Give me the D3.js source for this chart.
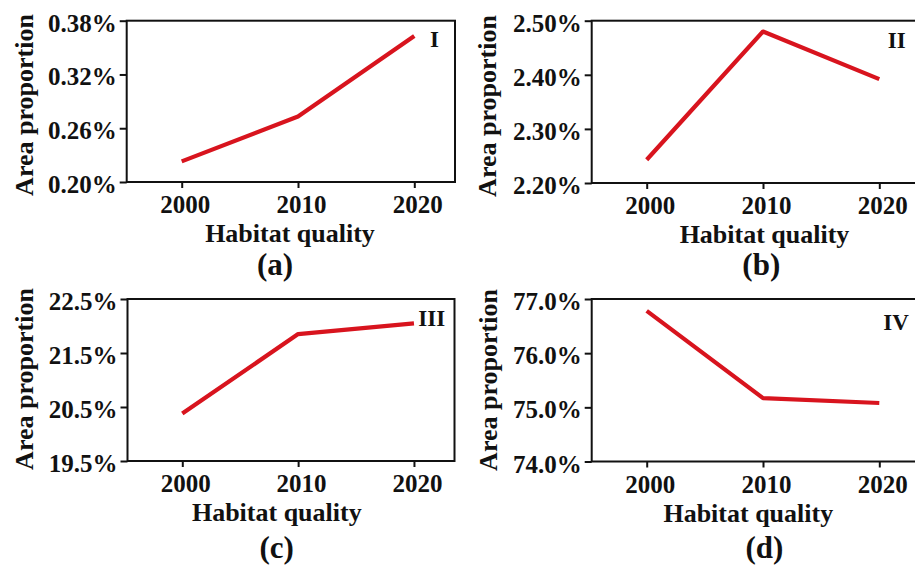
<!DOCTYPE html>
<html>
<head>
<meta charset="utf-8">
<script src="https://cdn.jsdelivr.net/npm/d3@7"></script>
<style>
  html, body { margin: 0; padding: 0; background: #fff; }
  svg { display: block; }
  text { font-family: "Liberation Serif", "Times New Roman", serif; font-weight: bold; fill: #111; }
</style>
</head>
<body>
<svg id="chart" width="915" height="565"></svg>
<script>
// Years on the x axis
const years = [2000, 2010, 2020];
const xTickValues = [2000, 2010, 2020];

// Area proportion (%) of each habitat-quality class
const seriesI = [0.223, 0.273, 0.363];
const seriesII = [2.243, 2.480, 2.392];
const seriesIII = [20.38, 21.85, 22.05];
const seriesIV = [76.78, 75.17, 75.08];

// Y tick values per panel
const yTicksI = [0.20, 0.26, 0.32, 0.38];
const yTicksII = [2.20, 2.30, 2.40, 2.50];
const yTicksIII = [19.5, 20.5, 21.5, 22.5];
const yTicksIV = [74.0, 75.0, 76.0, 77.0];

const classLabels = ["I", "II", "III", "IV"];
const panelTags = ["(a)", "(b)", "(c)", "(d)"];
const xTitle = "Habitat quality";
const yTitle = "Area proportion";

// Panel layout (plot boxes and label anchors)
const panels = [
  { values: seriesI, ticks: yTicksI, fmt: ".2f",
    box: { left: 126.7, top: 20.7, width: 328.3, height: 161.3 },
    cls: { x: 430, y: 47 }, xt: { x: 290, y: 242 }, tag: { x: 275, y: 274.5 }, yt: { x: 32.5, y: 105 } },
  { values: seriesII, ticks: yTicksII, fmt: ".2f",
    box: { left: 591.7, top: 20.7, width: 328.3, height: 162.3 },
    cls: { x: 887.7, y: 47.7 }, xt: { x: 764.5, y: 243 }, tag: { x: 761.3, y: 274.5 }, yt: { x: 496, y: 106 } },
  { values: seriesIII, ticks: yTicksIII, fmt: ".1f",
    box: { left: 127.5, top: 299, width: 327, height: 162 },
    cls: { x: 418.3, y: 325.7 }, xt: { x: 276.8, y: 521 }, tag: { x: 276.7, y: 557.5 }, yt: { x: 32.5, y: 379 } },
  { values: seriesIV, ticks: yTicksIV, fmt: ".1f",
    box: { left: 591.7, top: 299, width: 328.3, height: 162.5 },
    cls: { x: 883.3, y: 329.5 }, xt: { x: 748.3, y: 521.5 }, tag: { x: 764.4, y: 558 }, yt: { x: 497, y: 380 } }
];

const lineColor = "#d8141e";
const svg = d3.select("#chart");

panels.forEach((p, i) => {
  const b = p.box;
  const g = svg.append("g").attr("transform", `translate(${b.left},${b.top})`);

  const x = d3.scaleLinear().domain([1995.27, 2023.5]).range([0, b.width]);
  const y = d3.scaleLinear().domain(d3.extent(p.ticks)).range([b.height, 0]);

  // frame
  g.append("rect")
    .attr("x", 0).attr("y", 0)
    .attr("width", b.width).attr("height", b.height)
    .attr("fill", "none").attr("stroke", "#111").attr("stroke-width", 2);

  // x axis
  const xa = g.append("g")
    .attr("transform", `translate(0,${b.height})`)
    .call(d3.axisBottom(x).tickValues(xTickValues).tickFormat(d3.format("d")).tickSize(6));
  xa.select(".domain").remove();
  xa.selectAll(".tick line").attr("stroke", "#111").attr("stroke-width", 2);
  xa.selectAll(".tick text")
    .attr("y", 31).attr("dy", 0)
    .attr("dx", 3)
    .style("font-size", "25px")
    .style("font-family", "'Liberation Serif', serif")
    .style("font-weight", "bold")
    .attr("fill", "#111");

  // y axis
  const f = d3.format(p.fmt);
  const ya = g.append("g")
    .call(d3.axisLeft(y).tickValues(p.ticks).tickFormat(d => f(d) + "%").tickSize(7).tickPadding(3));
  ya.select(".domain").remove();
  ya.selectAll(".tick line").attr("stroke", "#111").attr("stroke-width", 2);
  ya.selectAll(".tick text")
    .attr("dy", "0.42em")
    .style("font-size", "25px")
    .style("font-family", "'Liberation Serif', serif")
    .style("font-weight", "bold")
    .attr("fill", "#111");

  // data line
  const line = d3.line().x((d, k) => x(years[k])).y(d => y(d));
  g.append("path")
    .datum(p.values)
    .attr("d", line)
    .attr("fill", "none")
    .attr("stroke", lineColor)
    .attr("stroke-width", 4.2)
    .attr("stroke-linejoin", "round");

  // class label
  svg.append("text")
    .attr("x", p.cls.x).attr("y", p.cls.y)
    .style("font-size", "23px")
    .text(classLabels[i]);

  // axis titles
  svg.append("text")
    .attr("x", p.xt.x).attr("y", p.xt.y)
    .attr("text-anchor", "middle")
    .style("font-size", "26px")
    .text(xTitle);

  svg.append("text")
    .attr("transform", `translate(${p.yt.x},${p.yt.y}) rotate(-90)`)
    .attr("text-anchor", "middle")
    .style("font-size", "26px")
    .text(yTitle);

  // panel tag
  svg.append("text")
    .attr("x", p.tag.x).attr("y", p.tag.y)
    .attr("text-anchor", "middle")
    .style("font-size", "31px")
    .text(panelTags[i]);
});
</script>
</body>
</html>
